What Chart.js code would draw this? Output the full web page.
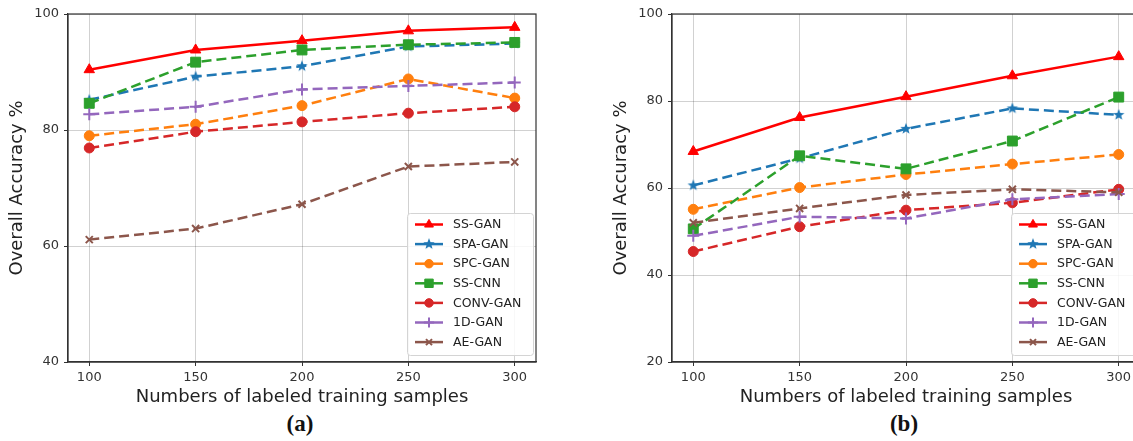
<!DOCTYPE html>
<html>
<head>
<meta charset="utf-8">
<script src="https://cdn.jsdelivr.net/npm/chart.js@4/dist/chart.umd.min.js"></script>
<style>
html, body { margin: 0; padding: 0; width: 1133px; height: 441px; overflow: hidden; background: #fff; }
canvas { position: absolute; top: 0; }
#chartA { left: 0; }
#chartB { left: 604px; }
.cap { position: absolute; top: 411px; width: 60px; text-align: center;
       font-family: "Liberation Serif", serif; font-size: 23px; font-weight: bold; color: #111; }
</style>
</head>
<body>
<canvas id="chartA" width="560" height="410"></canvas>
<canvas id="chartB" width="560" height="410"></canvas>
<div class="cap" style="left:270px">(a)</div>
<div class="cap" style="left:874px">(b)</div>
<script>
// x categories (number of labeled samples)
var samples = [100, 150, 200, 250, 300];
var xTicks = [100, 150, 200, 250, 300];
var yTicksA = [40, 60, 80, 100];
var yTicksB = [20, 40, 60, 80, 100];

// (a)
var ssGanA   = [90.4, 93.8, 95.4, 97.1, 97.7];
var spaGanA  = [85.2, 89.2, 91.0, 94.4, 94.9];
var spcGanA  = [79.0, 81.0, 84.2, 88.8, 85.5];
var ssCnnA   = [84.6, 91.7, 93.8, 94.7, 95.1];
var convGanA = [76.9, 79.7, 81.4, 82.9, 84.0];
var oneDGanA = [82.7, 84.0, 87.0, 87.6, 88.2];
var aeGanA   = [61.1, 63.0, 67.2, 73.7, 74.5];

// (b)
var ssGanB   = [68.4, 76.2, 81.0, 85.8, 90.2];
var spaGanB  = [60.6, 66.8, 73.6, 78.3, 76.8];
var spcGanB  = [55.1, 60.1, 63.1, 65.5, 67.7];
var ssCnnB   = [50.6, 67.4, 64.4, 70.8, 80.9];
var convGanB = [45.4, 51.1, 54.9, 56.6, 59.7];
var oneDGanB = [49.0, 53.4, 53.0, 57.4, 58.6];
var aeGanB   = [52.0, 55.3, 58.4, 59.7, 59.0];

// filled star marker (matplotlib '*')
function makeStar(color, r) {
    var c = document.createElement('canvas');
    c.width = c.height = r * 2 + 2;
    var g = c.getContext('2d');
    g.fillStyle = color;
    g.beginPath();
    for (var i = 0; i < 10; i++) {
        var rad = i % 2 === 0 ? r : r * 0.42;
        var ang = -Math.PI / 2 + i * Math.PI / 5;
        var px = r + 1 + rad * Math.cos(ang), py = r + 1 + rad * Math.sin(ang);
        if (i === 0) g.moveTo(px, py); else g.lineTo(px, py);
    }
    g.closePath();
    g.fill();
    return c;
}
var blueStar = makeStar('#1f77b4', 6);

function series(label, values, color, style, radius, dashed, pbw) {
    return {
        label: label,
        data: samples.map(function (s, i) { return { x: s, y: values[i] }; }),
        borderColor: color,
        backgroundColor: color,
        pointBackgroundColor: color,
        pointBorderColor: color,
        pointStyle: style,
        pointRadius: radius,
        pointBorderWidth: pbw || 1,
        borderWidth: 2.5,
        borderDash: dashed ? [10, 5] : [],
        tension: 0
    };
}

function makeSets(ss, spa, spc, cnn, conv, oned, ae) {
    var sets = [
        series('SS-GAN', ss, '#ff0000', 'triangle', 6, false),
        series('SPA-GAN', spa, '#1f77b4', blueStar, 6, true),
        series('SPC-GAN', spc, '#ff7f0e', 'circle', 5, true),
        series('SS-CNN', cnn, '#2ca02c', 'rect', 7, true),
        series('CONV-GAN', conv, '#d62728', 'circle', 5, true),
        series('1D-GAN', oned, '#9467bd', 'cross', 6, true, 2),
        series('AE-GAN', ae, '#8c564b', 'crossRot', 5, true, 2)
    ];
    // later series on top, like matplotlib
    sets.forEach(function (d, i) { d.order = sets.length - i; });
    return sets;
}

// box around plot area
var frame = {
    id: 'frame',
    afterDraw: function (chart) {
        var a = chart.chartArea, ctx = chart.ctx;
        ctx.save();
        ctx.strokeStyle = '#333';
        ctx.lineWidth = 1.2;
        ctx.strokeRect(a.left, a.top, a.right - a.left, a.bottom - a.top);
        ctx.restore();
    }
};

// legend box inside the plot, lower right
var boxLegend = {
    id: 'boxLegend',
    afterDraw: function (chart) {
        var ctx = chart.ctx, a = chart.chartArea;
        var w = 126, h = 142;
        var x = a.right - 3 - w, y = a.bottom - 7 - h;
        ctx.save();
        ctx.fillStyle = 'rgba(255,255,255,0.85)';
        ctx.strokeStyle = '#d4d4d4';
        ctx.lineWidth = 1;
        ctx.beginPath();
        ctx.roundRect(x + 0.5, y + 0.5, w, h, 3);
        ctx.fill();
        ctx.stroke();
        ctx.font = '12.5px "DejaVu Sans"';
        ctx.textBaseline = 'middle';
        chart.data.datasets.forEach(function (ds, i) {
            var cy = y + 11.5 + i * 19.6;
            ctx.setLineDash([]);
            ctx.strokeStyle = ds.borderColor;
            ctx.lineWidth = ds.borderWidth;
            ctx.beginPath();
            ctx.moveTo(x + 8, cy);
            ctx.lineTo(x + 36, cy);
            ctx.stroke();
            ctx.fillStyle = ds.pointBackgroundColor;
            ctx.lineWidth = ds.pointBorderWidth;
            Chart.helpers.drawPoint(ctx, {
                pointStyle: ds.pointStyle, radius: ds.pointRadius * 0.85,
                borderWidth: ds.pointBorderWidth, rotation: 0
            }, x + 22, cy);
            ctx.fillStyle = '#222';
            ctx.fillText(ds.label, x + 46, cy + 0.5);
        });
        ctx.restore();
    }
};

function makeOptions(yTicks) {
    return {
        responsive: false,
        animation: false,
        layout: { padding: { top: 14, right: 24, left: 0, bottom: 0 } },
        plugins: { legend: { display: false }, tooltip: { enabled: false } },
        scales: {
            x: {
                type: 'linear',
                min: 90,
                max: 310,
                afterBuildTicks: function (s) { s.ticks = xTicks.map(function (v) { return { value: v }; }); },
                afterFit: function (s) { s.height = 48; },
                grid: { color: 'rgba(0,0,0,0.18)', tickColor: '#333', tickLength: 4 },
                border: { color: '#333', width: 1.2 },
                ticks: { color: '#333', padding: 4, font: { family: 'DejaVu Sans', size: 13 } },
                title: { display: true, text: 'Numbers of labeled training samples', color: '#222',
                         padding: { top: 2, bottom: 2 }, font: { family: 'DejaVu Sans', size: 18 } }
            },
            y: {
                min: yTicks[0],
                max: yTicks[yTicks.length - 1],
                afterBuildTicks: function (s) { s.ticks = yTicks.map(function (v) { return { value: v }; }); },
                afterFit: function (s) { s.width = 68; },
                grid: { color: 'rgba(0,0,0,0.18)', tickColor: '#333', tickLength: 4 },
                border: { color: '#333', width: 1.2 },
                ticks: { color: '#333', padding: 5, font: { family: 'DejaVu Sans', size: 13 } },
                title: { display: true, text: 'Overall Accuracy %', color: '#222',
                         padding: { top: 7, bottom: 4 }, font: { family: 'DejaVu Sans', size: 18 } }
            }
        }
    };
}

var ctxA = document.getElementById('chartA').getContext('2d');
var chartA = new Chart(ctxA, {
    type: 'line',
    data: { datasets: makeSets(ssGanA, spaGanA, spcGanA, ssCnnA, convGanA, oneDGanA, aeGanA) },
    options: makeOptions(yTicksA),
    plugins: [frame, boxLegend]
});

var ctxB = document.getElementById('chartB').getContext('2d');
var chartB = new Chart(ctxB, {
    type: 'line',
    data: { datasets: makeSets(ssGanB, spaGanB, spcGanB, ssCnnB, convGanB, oneDGanB, aeGanB) },
    options: makeOptions(yTicksB),
    plugins: [frame, boxLegend]
});
</script>
</body>
</html>
